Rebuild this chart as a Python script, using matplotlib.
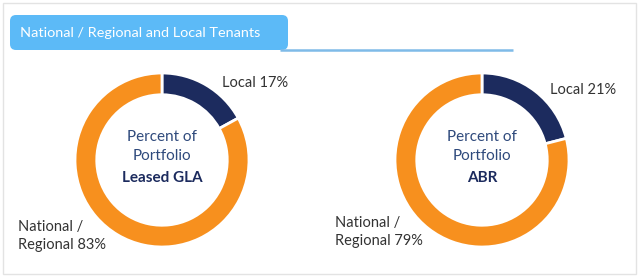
import matplotlib.pyplot as plt
from matplotlib.patches import FancyBboxPatch, Rectangle

# data
TITLE = "National / Regional and Local Tenants"
CATEGORIES = ["Local", "National / Regional"]
GLA_SHARE = [17, 83]
ABR_SHARE = [21, 79]
CENTER_SUBTITLES = ["Leased GLA", "ABR"]

NAVY = "#1c2b5e"
ORANGE = "#f7901e"
TEXT_NAVY = "#2f4a7c"
LABEL_COL = "#333333"

plt.rcParams["font.family"] = ["Lato", "DejaVu Sans"]

W, H = 640, 278
fig = plt.figure(figsize=(W / 100, H / 100), dpi=100)
fig.patch.set_facecolor("white")

# background axis in pixel coordinates
bg = fig.add_axes([0, 0, 1, 1])
bg.set_xlim(0, W)
bg.set_ylim(H, 0)
bg.axis("off")

bg.add_patch(Rectangle((3, 3), 633, 271, fill=False, ec="#e3e3e3", lw=1))
bg.add_patch(FancyBboxPatch((10, 15), 278, 35,
                            boxstyle="round,pad=0,rounding_size=6",
                            fc="#5cbaf7", ec="none"))
bg.plot([280, 513], [49.5, 49.5], color="#7fbbe8", lw=1.8, solid_capstyle="butt")
bg.text(20, 33, TITLE, color="white", fontsize=10.4, va="center", ha="left")


def donut(cx, cy, r, values, subtitle, local_xy, nat_xy):
    ax = fig.add_axes([(cx - r) / W, 1 - (cy + r) / H, 2 * r / W, 2 * r / H])
    ax.pie(values, colors=[NAVY, ORANGE], startangle=90, counterclock=False,
           radius=1, wedgeprops=dict(width=0.25, edgecolor="white", linewidth=2))
    ax.set_xlim(-1, 1)
    ax.set_ylim(-1, 1)
    ax.set_aspect("auto")
    ax.axis("off")

    bg.text(cx, cy - 23, "Percent of", ha="center", va="center",
            fontsize=11, color=TEXT_NAVY)
    bg.text(cx, cy - 4, "Portfolio", ha="center", va="center",
            fontsize=11, color=TEXT_NAVY)
    bg.text(cx, cy + 18, subtitle, ha="center", va="center",
            fontsize=11, color=NAVY, fontweight="bold")

    bg.text(local_xy[0], local_xy[1], f"{CATEGORIES[0]} {values[0]}%",
            ha="left", va="center", fontsize=10.5, color=LABEL_COL)
    nat = CATEGORIES[1].replace(" / ", " /\n")
    bg.text(nat_xy[0], nat_xy[1], f"{nat} {values[1]}%",
            ha="left", va="center", fontsize=10.5, color=LABEL_COL,
            linespacing=1.4)


donut(162, 160, 87, GLA_SHARE, CENTER_SUBTITLES[0], (222, 83), (18, 236))
donut(482, 160, 87, ABR_SHARE, CENTER_SUBTITLES[1], (550, 90), (335, 232))

fig.savefig("out.png", dpi=100, facecolor="white")
